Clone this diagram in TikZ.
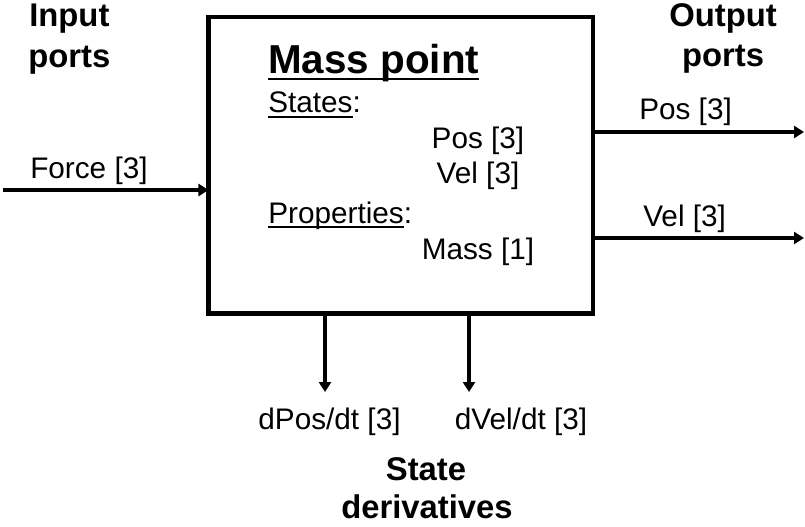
\documentclass[tikz,border=0pt]{standalone}
\usepackage{fontspec}
\setmainfont{Liberation Sans}
\usetikzlibrary{arrows.meta}

% underline a word with a rule that scales with the font
\newsavebox{\ulsave}
\newcommand{\ulword}[1]{\sbox{\ulsave}{#1}\rlap{\rule[-0.16em]{\wd\ulsave}{0.07em}}\usebox{\ulsave}}

\begin{document}
\begin{tikzpicture}[x=0.75pt, y=-0.75pt, >={Triangle[length=7.5pt,width=9pt]},
    block/.style={draw, line width=3.5pt, minimum width=288.4pt, minimum height=222.4pt, inner sep=0pt, outer sep=0pt},
    port/.style={->, line width=3pt},
    txt/.style={font=\fontsize{22.3}{26}\selectfont, inner sep=0pt},
    head/.style={font=\fontsize{24.6}{30}\selectfont\bfseries, inner sep=0pt},
    title/.style={font=\fontsize{30.3}{36}\selectfont\bfseries, inner sep=0pt}]
        \useasboundingbox (0,0) rectangle (805,527);

        % The block itself
        \node[block] (box) at (400.75,165.25) {};
        \node[title, anchor=base west] (name) at (268,74) {\ulword{Mass point}};
        \node[txt, anchor=base west] (states) at (268,113) {\ulword{States}:};
        \node[txt, anchor=base] (posstate) at (478,149) {Pos [3]};
        \node[txt, anchor=base] (velstate) at (478,184) {Vel [3]};
        \node[txt, anchor=base west] (props) at (268,223) {\ulword{Properties}:};
        \node[txt, anchor=base] (mass) at (478,259) {Mass [1]};

        % Group headings
        \node[head, anchor=base west] (inhead) at (29,27) {Input};
        \node[head, anchor=base west] (inhead2) at (28,68) {ports};
        \node[head, anchor=base] (outhead) at (723,27) {Output};
        \node[head, anchor=base] (outhead2) at (723,67) {ports};
        \node[head, anchor=base] (derhead) at (426,480) {State};
        \node[head, anchor=base] (derhead2) at (427,518) {derivatives};

        % Free ends of the ports
        \coordinate (forcein) at (3,190);
        \coordinate (posout) at (804,132);
        \coordinate (velout) at (804,238);
        \coordinate (dposout) at (325,392);
        \coordinate (dvelout) at (469,392);

        % Ports
        \draw[port] (forcein) -- (forcein -| box.west);
        \draw[port] (posout -| box.east) -- (posout);
        \draw[port] (velout -| box.east) -- (velout);
        \draw[port] (dposout |- box.south) -- (dposout);
        \draw[port] (dvelout |- box.south) -- (dvelout);

        % Port labels
        \node[txt, anchor=base west] (force) at (30,179) {Force [3]};
        \node[txt, anchor=base west] (pos) at (639,120) {Pos [3]};
        \node[txt, anchor=base west] (vel) at (643,226) {Vel [3]};
        \node[txt, anchor=base] (dpos) at (329.5,429) {dPos/dt [3]};
        \node[txt, anchor=base] (dvel) at (521,429) {dVel/dt [3]};
    \end{tikzpicture}
\end{document}
